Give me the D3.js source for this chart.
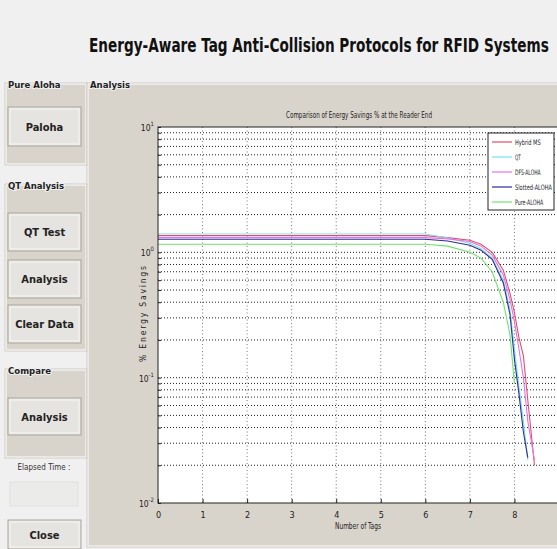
<!DOCTYPE html>
<html>
<head>
<meta charset="utf-8">
<script src="https://cdn.jsdelivr.net/npm/d3@7"></script>
<style>
  body { margin: 0; background: #f0f0f0; }
  svg text { font-family: "DejaVu Sans Condensed", "Liberation Sans Narrow", sans-serif; }
</style>
</head>
<body>
<div id="fig"></div>
<script>
// number of tags (x) shared by every curve
const xTags = [0, 1, 2, 3, 4, 5, 6, 6.5, 7, 7.25, 7.5, 7.75, 7.9, 8, 8.1, 8.2, 8.3, 8.45];

// energy savings %
const hybridMS     = [1.36, 1.36, 1.36, 1.36, 1.36, 1.36, 1.36, 1.31, 1.25, 1.16, 1.0, 0.72, 0.47, 0.33, 0.21, 0.15, 0.066, 0.02];
const qt           = [1.40, 1.40, 1.40, 1.40, 1.40, 1.40, 1.40, 1.30, 1.18, 1.07, 0.90, 0.60, 0.35, 0.17, 0.085, 0.045, 0.022];
const dfsAloha     = [1.31, 1.31, 1.31, 1.31, 1.31, 1.31, 1.31, 1.28, 1.22, 1.12, 0.95, 0.66, 0.42, 0.28, 0.17, 0.10, 0.045, 0.022];
const slottedAloha = [1.27, 1.27, 1.27, 1.27, 1.27, 1.27, 1.27, 1.23, 1.14, 1.04, 0.88, 0.57, 0.32, 0.14, 0.075, 0.037, 0.023];
const pureAloha    = [1.16, 1.16, 1.16, 1.16, 1.16, 1.16, 1.16, 1.12, 1.0, 0.9, 0.70, 0.40, 0.22, 0.09];

const seriesNames  = ["Hybrid MS", "QT", "DFS-ALOHA", "Slotted-ALOHA", "Pure-ALOHA"];
const seriesColors = ["#e0506a", "#74e4ee", "#e274e6", "#2c2ca0", "#6ee46e"];
const seriesValues = [hybridMS, qt, dfsAloha, slottedAloha, pureAloha];

const xTickValues = [0, 1, 2, 3, 4, 5, 6, 7, 8];
const yDecades = [0.01, 0.1, 1, 10];

const W = 557, H = 549;
const svg = d3.select("#fig").append("svg").attr("width", W).attr("height", H);

// squeeze a left-anchored text horizontally so it spans at most maxW px
function squeeze(t, x0, maxW) {
    const w = t.node().getComputedTextLength();
    if (w > maxW) {
        const k = maxW / w;
        t.attr("x", 0).attr("transform", "translate(" + x0 + ",0) scale(" + k + ",1)");
    }
}

// window background
svg.append("rect").attr("width", W).attr("height", H).attr("fill", "#f0f0f0");

const title = svg.append("text")
    .attr("x", 89).attr("y", 52)
    .attr("font-size", 20).attr("font-weight", "bold").attr("fill", "#111")
    .text("Energy-Aware Tag Anti-Collision Protocols for RFID Systems");
squeeze(title, 89, 460);

// ---- left side panels and buttons ----
const panelBg = "#d9d4cb";
function panel(x, y, w, h, label) {
    svg.append("rect").attr("x", x).attr("y", y).attr("width", w).attr("height", h)
        .attr("fill", panelBg).attr("stroke", "#fff").attr("stroke-width", 1);
    svg.append("rect").attr("x", x - 1).attr("y", y - 1).attr("width", w + 2).attr("height", h + 2)
        .attr("fill", "none").attr("stroke", "#b8b4ac").attr("stroke-width", 0.6);
    svg.append("text").attr("x", x + 2).attr("y", y + 4)
        .attr("font-size", 9.5).attr("font-weight", "bold").attr("fill", "#222")
        .attr("stroke", "#f0f0f0").attr("stroke-width", 2).attr("paint-order", "stroke")
        .text(label);
}
function button(x, y, w, h, label) {
    svg.append("rect").attr("x", x).attr("y", y).attr("width", w).attr("height", h)
        .attr("fill", "#e6e4e0").attr("stroke", "#a9a59d").attr("stroke-width", 1);
    svg.append("rect").attr("x", x + 2).attr("y", y + 2).attr("width", w - 4).attr("height", h - 4)
        .attr("fill", "none").attr("stroke", "#f6f6f4").attr("stroke-width", 1);
    svg.append("text").attr("x", x + w / 2).attr("y", y + h / 2 + 4)
        .attr("text-anchor", "middle").attr("font-size", 11).attr("font-weight", "bold").attr("fill", "#222")
        .text(label);
}

panel(6, 84, 80, 80, "Pure Aloha");
button(8, 107, 73, 39, "Paloha");
panel(6, 185, 80, 165, "QT Analysis");
button(8, 213, 73, 38, "QT Test");
button(8, 260, 73, 38, "Analysis");
button(8, 305, 73, 38, "Clear Data");
panel(6, 370, 80, 87, "Compare");
button(8, 398, 73, 37, "Analysis");

svg.append("text").attr("x", 44).attr("y", 470).attr("text-anchor", "middle")
    .attr("font-size", 8).attr("fill", "#333").text("Elapsed Time :");
svg.append("rect").attr("x", 10).attr("y", 482).attr("width", 68).attr("height", 24)
    .attr("fill", "#ebebea").attr("stroke", "#e0e0de");
button(8, 520, 73, 29, "Close");

// ---- right analysis panel ----
panel(88, 84, 470, 462, "Analysis");

// ---- axes ----
const x = d3.scaleLinear().domain([0, 9]).range([158, 559]);
const y = d3.scaleLog().domain([0.01, 10]).range([503, 127]);

svg.append("rect").attr("x", 158).attr("y", 127).attr("width", 559 - 158).attr("height", 503 - 127)
    .attr("fill", "#fff");

// minor + major horizontal grid (log decades 2..9)
const yGrid = [];
yDecades.slice(0, 3).forEach(d => { for (let k = 1; k <= 9; k++) yGrid.push(d * k); });
yGrid.push(10);
const g = svg.append("g");
g.selectAll(".hg").data(yGrid.filter(v => v > 0.01 && v < 10)).join("line")
    .attr("x1", 158).attr("x2", 559)
    .attr("y1", d => y(d)).attr("y2", d => y(d))
    .attr("stroke", "#222").attr("stroke-width", 1).attr("stroke-dasharray", "1,2");
g.selectAll(".vg").data(xTickValues.slice(1)).join("line")
    .attr("x1", d => x(d)).attr("x2", d => x(d))
    .attr("y1", 127).attr("y2", 503)
    .attr("stroke", "#555").attr("stroke-width", 0.8).attr("stroke-dasharray", "1,2.5");

// curves
const line = d3.line().x(d => x(d[0])).y(d => y(d[1]));
seriesValues.forEach((vals, i) => {
    svg.append("path")
        .datum(vals.map((v, j) => [xTags[j], v]))
        .attr("fill", "none").attr("stroke", seriesColors[i]).attr("stroke-width", 1.1)
        .attr("d", line);
});

// axis box
svg.append("rect").attr("x", 158).attr("y", 127).attr("width", 559 - 158).attr("height", 503 - 127)
    .attr("fill", "none").attr("stroke", "#222").attr("stroke-width", 1);

const xAxis = svg.append("g").attr("transform", "translate(0,503)")
    .call(d3.axisBottom(x).tickValues(xTickValues).tickSize(-4).tickFormat(d3.format("d")));
xAxis.select(".domain").remove();
xAxis.selectAll("line").attr("stroke", "#222");
xAxis.selectAll("text").attr("font-size", 9).attr("fill", "#222").attr("dy", "1.3em");

const yAxis = svg.append("g").attr("transform", "translate(158,0)")
    .call(d3.axisLeft(y).tickValues(yGrid.filter(v => v >= 0.01 && v <= 10)).tickSize(-3).tickFormat(""));
yAxis.select(".domain").remove();
yAxis.selectAll("line").attr("stroke", "#222");
const yLab = svg.append("g");
yDecades.forEach(d => {
    const t = yLab.append("text").attr("x", 154).attr("y", y(d) + 4)
        .attr("text-anchor", "end").attr("font-size", 8.5).attr("fill", "#222");
    t.append("tspan").text("10");
    t.append("tspan").attr("dy", -5).attr("font-size", 6).text(Math.round(Math.log10(d)));
});

svg.append("text").attr("x", 359).attr("y", 118).attr("text-anchor", "middle")
    .attr("font-size", 8).attr("fill", "#222")
    .attr("textLength", 146).attr("lengthAdjust", "spacingAndGlyphs")
    .text("Comparison of Energy Savings % at the Reader End");
svg.append("text").attr("x", 358).attr("y", 529).attr("text-anchor", "middle")
    .attr("font-size", 8.5).attr("fill", "#222")
    .attr("textLength", 46).attr("lengthAdjust", "spacingAndGlyphs")
    .text("Number of Tags");
svg.append("text").attr("transform", "translate(146,314) rotate(-90)").attr("text-anchor", "middle")
    .attr("font-size", 8.5).attr("fill", "#222")
    .attr("textLength", 96).attr("lengthAdjust", "spacing")
    .text("% Energy Savings");

// legend (text squeezed to fit like the original narrow font)
const lg = svg.append("g");
lg.append("rect").attr("x", 488).attr("y", 133).attr("width", 66).attr("height", 77)
    .attr("fill", "#fff").attr("stroke", "#222").attr("stroke-width", 1);
seriesNames.forEach((name, i) => {
    const yy = 142 + i * 15;
    lg.append("line").attr("x1", 492).attr("x2", 512).attr("y1", yy).attr("y2", yy)
        .attr("stroke", seriesColors[i]).attr("stroke-width", 1.2);
    const t = lg.append("text").attr("x", 515).attr("y", yy + 3).attr("font-size", 7.5).attr("fill", "#222")
        .text(name);
    squeeze(t, 515, 37 * name.length / 13);
});
</script>
</body>
</html>
